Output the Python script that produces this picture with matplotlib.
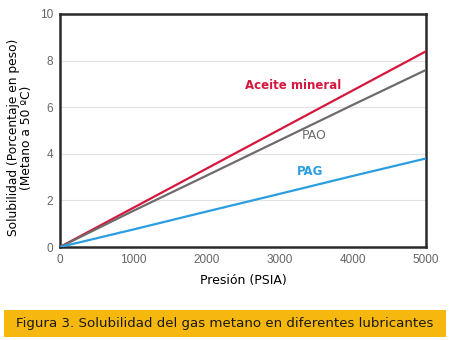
import matplotlib
matplotlib.use("Agg")
import matplotlib.pyplot as plt
from matplotlib.patches import Rectangle

# Presión (PSIA) vs solubilidad (% en peso)
presion = [0, 1000, 2000, 3000, 4000, 5000]
aceite_mineral = [0, 1.68, 3.36, 5.04, 6.72, 8.4]
pao = [0, 1.55, 3.06, 4.58, 6.1, 7.6]
pag = [0, 0.75, 1.52, 2.28, 3.05, 3.8]

xticks = [0, 1000, 2000, 3000, 4000, 5000]
yticks = [0, 2, 4, 6, 8, 10]

rojo = "#d6173c"
gris = "#6f6b6b"
azul = "#2a9ee0"

fig = plt.figure(figsize=(4.49, 3.4), dpi=100)
ax = fig.add_axes([60 / 449, 1 - 247 / 340, 366 / 449, 233 / 340])

ax.plot(presion, aceite_mineral, color=rojo, lw=1.6, zorder=3)
ax.plot(presion, pao, color=gris, lw=1.6, zorder=3)
ax.plot(presion, pag, color=azul, lw=1.6, zorder=3)

ax.set_xlim(0, 5000)
ax.set_ylim(0, 10)
ax.set_xticks(xticks)
ax.set_yticks(yticks)
ax.grid(axis="y", color="#e2e2e2", lw=0.8)
ax.set_axisbelow(True)
for s in ax.spines.values():
    s.set_linewidth(1.8)
    s.set_color("#2a2a2a")
ax.tick_params(length=0, labelsize=8.5, colors="#666666", pad=5)
for lab in ax.get_xticklabels() + ax.get_yticklabels():
    lab.set_fontfamily("Liberation Sans")

ax.text(2530, 6.8, "Aceite mineral", color=rojo, fontsize=8.5, fontweight="bold")
ax.text(3300, 4.65, "PAO", color=gris, fontsize=9)
ax.text(3240, 3.1, "PAG", color=azul, fontsize=8.5, fontweight="bold")

ax.set_xlabel("Presión (PSIA)", fontsize=9, labelpad=6)
ax.set_ylabel("Solubilidad (Porcentaje en peso)\n(Metano a 50 ºC)", fontsize=8.8,
              linespacing=1.0)
ax.yaxis.set_label_coords(-0.075, 0.47)

fig.patches.append(Rectangle((4 / 449, 1 - 337 / 340), 442 / 449, 27 / 340,
                             transform=fig.transFigure, facecolor="#f6b70f",
                             edgecolor="none"))
fig.text(225 / 449, 1 - 324 / 340,
         "Figura 3. Solubilidad del gas metano en diferentes lubricantes",
         ha="center", va="center", fontsize=9.6, color="#1a1a1a")

fig.savefig("out.png", dpi=100)
